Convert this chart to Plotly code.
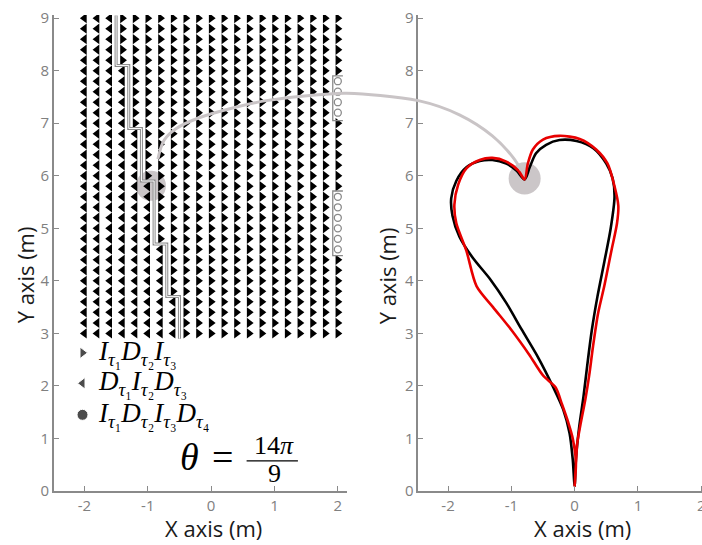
import plotly.graph_objects as go

# ---------------- data ----------------
grid_cols = [-2.0, -1.8, -1.6, -1.4, -1.2, -1.0, -0.8, -0.6, -0.4, -0.2, 0.0,
             0.2, 0.4, 0.6, 0.8, 1.0, 1.2, 1.4, 1.6, 1.8, 2.0]
grid_rows = [3.0, 3.2, 3.4, 3.6, 3.8, 4.0, 4.2, 4.4, 4.6, 4.8, 5.0, 5.2, 5.4,
             5.6, 5.8, 6.0, 6.2, 6.4, 6.6, 6.8, 7.0, 7.2, 7.4, 7.6, 7.8, 8.0,
             8.2, 8.4, 8.6, 8.8, 9.0]
# switching staircase (vertical segments: x, y_top, y_bottom)
stair_x = [-1.5, -1.5, -1.3, -1.3, -1.1, -1.1, -0.9, -0.9, -0.7, -0.7, -0.5, -0.5]
stair_y = [9.05, 8.1, 8.1, 6.9, 6.9, 5.9, 5.9, 4.7, 4.7, 3.7, 3.7, 2.9]
# four-switch cells (open circles) in the right-most column
circle_col = 2.0
circle_rows = [4.6, 4.8, 5.0, 5.2, 5.4, 5.6, 7.2, 7.4, 7.6, 7.8]
bracket_spans = [(4.48, 5.71), (7.05, 7.9)]
bracket_x = [2.08, 1.92]

legend_y = [2.63, 2.05, 1.45]
legend_symbols = ["triangle-right", "triangle-left", "circle"]
legend_labels = [
    "<i>I</i><sub><i>τ</i>₁</sub><i>D</i><sub><i>τ</i>₂</sub><i>I</i><sub><i>τ</i>₃</sub>",
    "<i>D</i><sub><i>τ</i>₁</sub><i>I</i><sub><i>τ</i>₂</sub><i>D</i><sub><i>τ</i>₃</sub>",
    "<i>I</i><sub><i>τ</i>₁</sub><i>D</i><sub><i>τ</i>₂</sub><i>I</i><sub><i>τ</i>₃</sub><i>D</i><sub><i>τ</i>₄</sub>",
]

tick_x_vals = [-2, -1, 0, 1, 2]
tick_x_text = ["-2", "-1", "0", "1", "2"]
tick_y_vals = [0, 1, 2, 3, 4, 5, 6, 7, 8, 9]

# heart trajectories (right panel)
black_x = [0.0, 0.02, 0.07, 0.14, 0.2, 0.27, 0.36, 0.47, 0.57, 0.63, 0.6, 0.5, 0.3,
           0.03, -0.24, -0.45, -0.61, -0.71, -0.79, -0.92, -1.08, -1.3, -1.5, -1.71,
           -1.87, -1.95, -1.93, -1.82, -1.61, -1.34, -1.08, -0.84, -0.58, -0.34,
           -0.18, -0.08, -0.03, 0.0]
black_y = [0.1, 0.6, 1.2, 1.8, 2.4, 3.05, 3.7, 4.37, 5.0, 5.6, 5.95, 6.23, 6.52,
           6.66, 6.68, 6.59, 6.43, 6.16, 5.93, 6.1, 6.23, 6.3, 6.28, 6.16,
           5.9, 5.57, 5.24, 4.84, 4.44, 4.04, 3.58, 3.08, 2.55, 1.98,
           1.55, 1.1, 0.6, 0.1]
red_x = [0.0, 0.02, 0.04, 0.09, 0.17, 0.23, 0.29, 0.37, 0.47, 0.58, 0.67, 0.69, 0.63,
         0.52, 0.34, 0.08, -0.24, -0.5, -0.66, -0.74, -0.79, -0.89, -1.08, -1.3,
         -1.5, -1.71, -1.84, -1.9, -1.87, -1.71, -1.55, -1.29, -0.99, -0.72,
         -0.5, -0.3, -0.2, -0.1, -0.03, 0.02, 0.0]
red_y = [0.1, 0.5, 0.9, 1.25, 1.75, 2.2, 2.75, 3.38, 3.91, 4.57, 5.1, 5.43, 5.8,
         6.23, 6.5, 6.7, 6.76, 6.69, 6.5, 6.23, 5.93, 6.1, 6.27, 6.34,
         6.3, 6.14, 5.83, 5.45, 5.1, 4.57, 3.9, 3.5, 3.05, 2.6,
         2.2, 1.97, 1.65, 1.3, 1.0, 0.55, 0.1]

# gray connector (left panel part, then right panel part)
conn_left_x = [-0.84, -0.74, -0.55, -0.2, 0.34, 0.87, 1.39, 1.92, 2.14]
conn_left_y = [6.32, 6.68, 6.9, 7.1, 7.29, 7.43, 7.51, 7.56, 7.57]
conn_right_x = [-2.47, -1.82, -1.3, -0.98, -0.84]
conn_right_y = [7.43, 7.16, 6.76, 6.36, 6.1]

theta_pos = (-0.34, 0.65)
eq_pos = (0.18, 0.64)
num_pos = (1.0, 0.87)
den_pos = (1.0, 0.33)
bar_span = (0.56, 1.37, 0.575)

# ---------------- layout geometry ----------------
FIG_W, FIG_H = 712, 545
ML, MR, MT, MB = 54, 0, 15, 54.3
PW = FIG_W - ML - MR
XL = [-2.48, 2.14]
XR = [-2.47, 2.17]
YR = [0, 9.06]
DL = [0.0, 292.7 / PW]
DR = [364.3 / PW, 1.0]

def to_paper(x, rng, dom):
    return dom[0] + (x - rng[0]) / (rng[1] - rng[0]) * (dom[1] - dom[0])

def px_to_paper(px):
    return (px - ML) / PW

# classify grid cells
segments = [(stair_x[2 * k], stair_y[2 * k], stair_y[2 * k + 1]) for k in range(len(stair_x) // 2)]

def boundary(y):
    for bx, yt, yb in segments:
        if yb <= y <= yt:
            return bx
    return None

lx, ly, rx, ry = [], [], [], []
for y in grid_rows:
    b = boundary(y)
    for x in grid_cols:
        if x == circle_col and any(abs(y - c) < 1e-6 for c in circle_rows):
            continue
        if x < b:
            lx.append(x); ly.append(y)
        else:
            rx.append(x); ry.append(y)

GRAY = "#8a8a8a"
fig = go.Figure()

fig.add_trace(go.Scatter(x=lx, y=ly, mode="markers", xaxis="x", yaxis="y",
                         marker=dict(symbol="triangle-left", size=9, color="black"),
                         hoverinfo="skip", showlegend=False))
fig.add_trace(go.Scatter(x=rx, y=ry, mode="markers", xaxis="x", yaxis="y",
                         marker=dict(symbol="triangle-right", size=9, color="black"),
                         hoverinfo="skip", showlegend=False))
fig.add_trace(go.Scatter(x=[circle_col] * len(circle_rows), y=circle_rows, mode="markers",
                         xaxis="x", yaxis="y",
                         marker=dict(symbol="circle-open", size=7, color=GRAY,
                                     line=dict(width=1.3, color=GRAY)),
                         hoverinfo="skip", showlegend=False))
# staircase (double line)
fig.add_trace(go.Scatter(x=stair_x, y=stair_y, mode="lines", xaxis="x", yaxis="y",
                         line=dict(color=GRAY, width=3.0), hoverinfo="skip", showlegend=False))
fig.add_trace(go.Scatter(x=stair_x, y=stair_y, mode="lines", xaxis="x", yaxis="y",
                         line=dict(color="white", width=1.0), hoverinfo="skip", showlegend=False))
# brackets
for lo, hi in bracket_spans:
    fig.add_trace(go.Scatter(x=[bracket_x[0], bracket_x[1], bracket_x[1], bracket_x[0]],
                             y=[hi, hi, lo, lo], mode="lines", xaxis="x", yaxis="y",
                             line=dict(color=GRAY, width=1.3), hoverinfo="skip", showlegend=False))
# legend markers
fig.add_trace(go.Scatter(x=[grid_cols[0] - 0.03] * 3, y=legend_y, mode="markers",
                         xaxis="x", yaxis="y",
                         marker=dict(symbol=legend_symbols, size=[10, 10, 11], color="black"),
                         hoverinfo="skip", showlegend=False))

# heart
fig.add_trace(go.Scatter(x=black_x, y=black_y, mode="lines", xaxis="x2", yaxis="y2",
                         line=dict(color="black", width=2.6, shape="spline", smoothing=0.8),
                         hoverinfo="skip", showlegend=False))
fig.add_trace(go.Scatter(x=red_x, y=red_y, mode="lines", xaxis="x2", yaxis="y2",
                         line=dict(color="#e80000", width=2.6, shape="spline", smoothing=0.8),
                         hoverinfo="skip", showlegend=False))

# connector across panels on an invisible full-width axis pair
cx = [to_paper(v, XL, DL) for v in conn_left_x] + [to_paper(v, XR, DR) for v in conn_right_x]
cy = conn_left_y + conn_right_y
fig.add_trace(go.Scatter(x=cx, y=cy, mode="lines", xaxis="x3", yaxis="y3",
                         line=dict(color="#c9c4c6", width=3, shape="spline", smoothing=1.0),
                         hoverinfo="skip", showlegend=False))

shapes = [
    dict(type="circle", xref="x", yref="y", layer="below",
         x0=-0.95 - 0.237, x1=-0.95 + 0.237, y0=5.81 - 0.286, y1=5.81 + 0.286,
         fillcolor="#cbc6c8", line=dict(width=0)),
    dict(type="circle", xref="x2", yref="y2", layer="below",
         x0=-0.79 - 0.253, x1=-0.79 + 0.253, y0=5.95 - 0.305, y1=5.95 + 0.305,
         fillcolor="#cbc6c8", line=dict(width=0)),
    dict(type="line", xref="x", yref="y", x0=bar_span[0], x1=bar_span[1],
         y0=bar_span[2], y1=bar_span[2], line=dict(color="black", width=1.3)),
]

SERIF = "Liberation Serif, DejaVu Serif, serif"
ann = []
for yv, lab in zip(legend_y, legend_labels):
    ann.append(dict(x=-1.82, y=yv, xref="x", yref="y", text=lab, showarrow=False,
                    xanchor="left", yanchor="middle", font=dict(family=SERIF, size=27, color="black")))
ann.append(dict(x=theta_pos[0], y=theta_pos[1], xref="x", yref="y", text="<i>θ</i>",
                showarrow=False, font=dict(family=SERIF, size=38, color="black")))
ann.append(dict(x=eq_pos[0], y=eq_pos[1], xref="x", yref="y", text="=",
                showarrow=False, font=dict(family=SERIF, size=38, color="black")))
ann.append(dict(x=num_pos[0], y=num_pos[1], xref="x", yref="y", text="14<i>π</i>",
                showarrow=False, font=dict(family=SERIF, size=26, color="black")))
ann.append(dict(x=den_pos[0], y=den_pos[1], xref="x", yref="y", text="9",
                showarrow=False, font=dict(family=SERIF, size=26, color="black")))

TITLE_FONT = dict(family="Open Sans", size=22, color="#1a1a1a")
ty = (MB - (545 - 528)) / -(FIG_H - MT - MB)
ann += [
    dict(x=px_to_paper(213), y=ty, xref="paper", yref="paper", text="X axis (m)", showarrow=False,
         font=TITLE_FONT, xanchor="center", yanchor="middle"),
    dict(x=px_to_paper(582), y=ty, xref="paper", yref="paper", text="X axis (m)", showarrow=False,
         font=TITLE_FONT, xanchor="center", yanchor="middle"),
    dict(x=px_to_paper(25), y=0.453, xref="paper", yref="paper", text="Y axis (m)", showarrow=False,
         textangle=-90, font=TITLE_FONT, xanchor="center", yanchor="middle"),
    dict(x=px_to_paper(387), y=0.453, xref="paper", yref="paper", text="Y axis (m)", showarrow=False,
         textangle=-90, font=TITLE_FONT, xanchor="center", yanchor="middle"),
]

axis_common = dict(showline=True, linecolor=GRAY, linewidth=1.6, ticks="inside", ticklen=5,
                   tickcolor=GRAY, tickwidth=1.3, showgrid=False, zeroline=False,
                   tickfont=dict(family="Open Sans", size=15, color="#808080"))

fig.update_layout(
    width=FIG_W, height=FIG_H,
    margin=dict(l=ML, r=MR, t=MT, b=MB),
    paper_bgcolor="white", plot_bgcolor="rgba(0,0,0,0)",
    xaxis=dict(domain=DL, range=XL, anchor="y", tickvals=tick_x_vals, ticktext=tick_x_text, **axis_common),
    yaxis=dict(domain=[0, 1], range=YR, anchor="x", tickvals=tick_y_vals, **axis_common),
    xaxis2=dict(domain=DR, range=XR, anchor="y2", tickvals=tick_x_vals, ticktext=tick_x_text,
                ticklabeloverflow="allow", **axis_common),
    yaxis2=dict(domain=[0, 1], range=YR, anchor="x2", tickvals=tick_y_vals, **axis_common),
    xaxis3=dict(domain=[0, 1], range=[0, 1], anchor="y3", visible=False),
    yaxis3=dict(domain=[0, 1], range=YR, anchor="x3", visible=False),
    shapes=shapes, annotations=ann, showlegend=False,
)

fig.write_html("out.html", config={"displayModeBar": False},
               post_script="document.body.style.margin='0px';document.body.style.overflow='hidden';")
